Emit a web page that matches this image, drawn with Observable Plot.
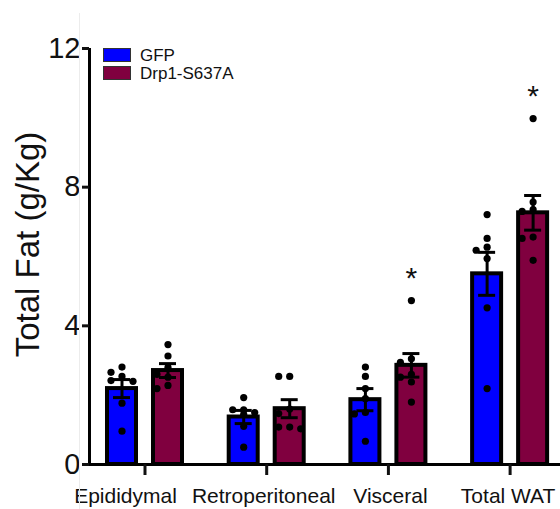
<!DOCTYPE html>
<html>
<head>
<meta charset="utf-8">
<script src="https://cdn.jsdelivr.net/npm/d3@7"></script>
<script src="https://cdn.jsdelivr.net/npm/@observablehq/plot@0.6"></script>
<style>
  html, body { margin: 0; padding: 0; background: #fff; }
  #wrap { position: relative; width: 560px; height: 509px; overflow: hidden; font-family: "Liberation Sans", Arial, sans-serif; }
  #vline { position: absolute; left: 79px; top: 13px; width: 1px; height: 496px; background: #ececec; }
  .sw { position: absolute; left: 103px; width: 28px; height: 14px; box-sizing: border-box; border: 1px solid #333; }
  .lt { position: absolute; left: 140px; font-size: 17px; line-height: 17px; color: #111; }
</style>
</head>
<body>
<div id="wrap">
  <div id="vline"></div>
  <div id="chart"></div>
  <div id="legend"></div>
</div>
<script>
// ---- data ----
const categories = ["Epididymal", "Retroperitoneal", "Visceral", "Total WAT"];
const series = ["GFP", "Drp1-S637A"];
const colors = ["#0000ff", "#80003f"];
const gfpMean = [2.19, 1.37, 1.87, 5.50];
const gfpSem  = [0.26, 0.19, 0.32, 0.62];
const drpMean = [2.71, 1.61, 2.86, 7.26];
const drpSem  = [0.20, 0.26, 0.34, 0.50];
const gfpDots = [
  [2.81, 2.66, 2.54, 2.42, 2.40, 1.77, 0.96],
  [1.93, 1.58, 1.58, 1.50, 1.45, 1.10, 0.50],
  [2.81, 2.54, 2.19, 1.90, 1.50, 1.46, 0.67],
  [7.21, 6.52, 6.27, 6.18, 5.94, 4.52, 2.19]
];
const drpDots = [
  [3.46, 3.13, 2.80, 2.60, 2.52, 2.28, 2.19],
  [2.54, 2.54, 1.60, 1.47, 1.08, 1.08, 1.03],
  [4.73, 3.05, 2.95, 2.60, 2.52, 2.38, 1.80],
  [9.98, 7.57, 7.35, 7.30, 6.56, 6.52, 5.89]
];
const significant = [["Visceral", "Drp1-S637A"], ["Total WAT", "Drp1-S637A"]];
const yTicks = [0, 4, 8, 12];

// ---- layout ----
const W = 560, H = 509, ML = 89, MR = 0, MT = 48, MB = 45;
const xDomain = [-0.456, 3.414];
const pxPerUnit = (W - ML - MR) / (xDomain[1] - xDomain[0]);
const off = [-23 / pxPerUnit, 23 / pxPerUnit];
const hw = 14.5 / pxPerUnit;
const capHw = 8.5 / pxPerUnit;
const pxPerY = (H - MB - MT) / 12;

const bars = [];
const dots = [];
const means = [gfpMean, drpMean], sems = [gfpSem, drpSem], allDots = [gfpDots, drpDots];
categories.forEach((c, gi) => {
  series.forEach((s, si) => {
    const cx = gi + off[si];
    bars.push({category: c, series: s, gi, si, cx, mean: means[si][gi], sem: sems[si][gi]});
    // simple dodge so the dots do not overlap
    const placed = [];
    const cands = [0, -11, 11, -6, 6, -16, 16];
    for (const v of allDots[si][gi]) {
      let chosen = 0;
      for (const o of cands) {
        const ok = placed.every(p => Math.hypot(p.o - o, (p.v - v) * pxPerY) >= 7.5);
        if (ok) { chosen = o; break; }
      }
      placed.push({o: chosen, v});
      dots.push({category: c, series: s, x: cx + chosen / pxPerUnit, value: v});
    }
  });
});
const stars = significant.map(([c, s]) => {
  const b = bars.find(d => d.category === c && d.series === s);
  const mx = d3.max(allDots[b.si][b.gi]);
  return {x: b.cx, y: mx};
});

const labelDx = [-19.5, -3, 2, -2];
const font = '"Liberation Sans", Arial, sans-serif';

const chart = Plot.plot({
  width: W, height: H,
  marginLeft: ML, marginRight: MR, marginTop: MT, marginBottom: MB,
  style: {fontFamily: font, background: "transparent", color: "#111", overflow: "visible"},
  x: {type: "linear", domain: xDomain},
  y: {domain: [0, 12]},
  marks: [
    Plot.rectY(bars, {x1: d => d.cx - hw, x2: d => d.cx + hw, y: "mean",
      fill: d => colors[d.si], stroke: "#000", strokeWidth: 4}),
    Plot.ruleX(bars, {x: "cx", y1: d => d.mean - d.sem, y2: d => d.mean + d.sem, stroke: "#000", strokeWidth: 3}),
    Plot.ruleY(bars, {y: d => d.mean + d.sem, x1: d => d.cx - capHw, x2: d => d.cx + capHw, stroke: "#000", strokeWidth: 3}),
    Plot.ruleY(bars, {y: d => d.mean - d.sem, x1: d => d.cx - capHw, x2: d => d.cx + capHw, stroke: "#000", strokeWidth: 3}),
    Plot.dot(dots, {x: "x", y: "value", r: 3.6, fill: "#000", stroke: "none"}),
    Plot.text(stars, {x: "x", y: "y", text: () => "*", fontSize: 30, dy: -22, lineAnchor: "middle", fill: "#111"}),
    // axes
    Plot.ruleY([0], {stroke: "#000", strokeWidth: 3}),
    Plot.ruleX([xDomain[0]], {y1: 0, y2: 12, stroke: "#000", strokeWidth: 3}),
    Plot.axisY(yTicks, {tickSize: 7, tickPadding: 2, fontSize: 29, strokeWidth: 3, label: null, fill: "#111"}),
    Plot.axisX(categories.map((c, i) => i), {tickSize: 11, strokeWidth: 3, tickFormat: () => "", label: null}),
    ...categories.map((c, i) => Plot.text([c], {x: () => i, frameAnchor: "bottom", lineAnchor: "top",
      dy: 24, dx: labelDx[i], fontSize: 21, fill: "#111"})),
    Plot.text(["Total Fat (g/Kg)"], {frameAnchor: "left", textAnchor: "middle", rotate: -90, dx: -61, dy: -12,
      fontSize: 33, fill: "#111", lineAnchor: "middle"})
  ]
});
document.getElementById("chart").appendChild(chart);

// legend
const legend = document.getElementById("legend");
series.forEach((s, i) => {
  const top = 48 + i * 18;
  const sw = document.createElement("div");
  sw.className = "sw"; sw.style.top = top + "px"; sw.style.background = colors[i];
  const t = document.createElement("div");
  t.className = "lt"; t.style.top = (top - 1.5) + "px"; t.textContent = s;
  legend.appendChild(sw); legend.appendChild(t);
});
</script>
</body>
</html>
